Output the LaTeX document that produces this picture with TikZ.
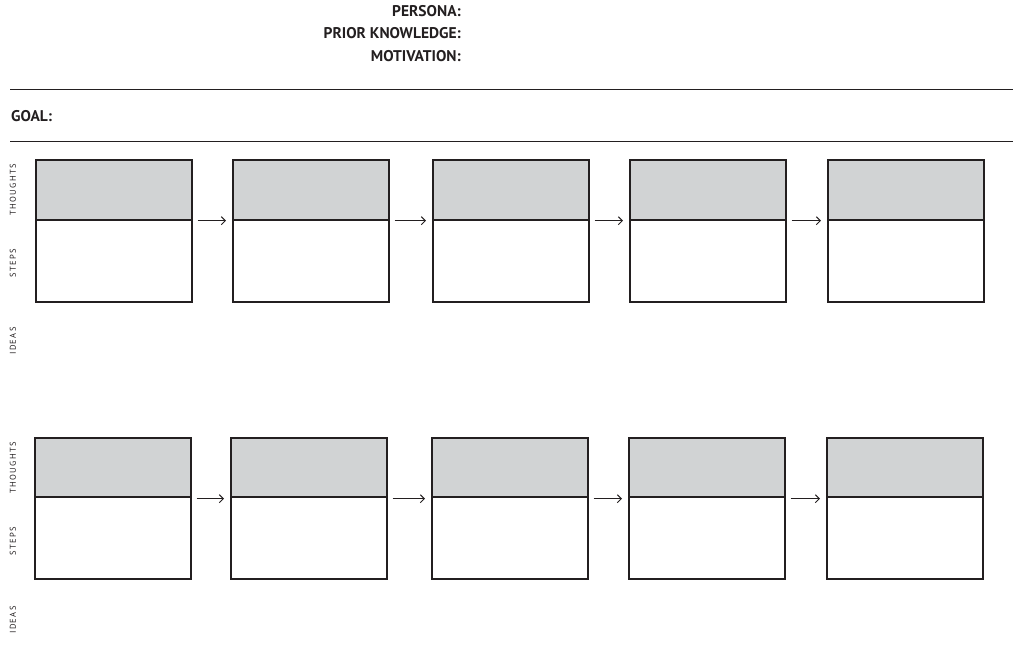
\documentclass[tikz,border=0pt]{standalone}
\usepackage{fontspec}
\setmainfont{PT Sans}
\usetikzlibrary{arrows.meta}
\definecolor{boxgray}{HTML}{D1D3D4}
\definecolor{inkc}{HTML}{231F20}
\begin{document}
\begin{tikzpicture}[x=1pt,y=-1pt,
  hdr/.style={font=\bfseries\fontsize{15.5}{16}\selectfont, text=inkc, anchor=east, inner sep=0pt},
  side/.style={font=\fontsize{8.5}{9}\selectfont, text=inkc, rotate=90, inner sep=0pt},
  topbox/.style={draw=inkc, line width=1.7pt, fill=boxgray, minimum width=156pt, minimum height=60pt, anchor=north west, inner sep=0pt},
  botbox/.style={draw=inkc, line width=1.7pt, fill=white, minimum width=156pt, minimum height=82pt, anchor=north west, inner sep=0pt},
  flow/.style={draw=inkc, line width=1pt, -{Straight Barb[length=4pt,width=8pt]}, shorten <=5pt, shorten >=6pt}]
\useasboundingbox (0,0) rectangle (1025,647);
\node[hdr] (persona) at (461,11) {PERSONA:};
\node[hdr] (prior) at (461,33.5) {PRIOR KNOWLEDGE:};
\node[hdr] (motiv) at (461,56) {MOTIVATION:};
\coordinate (l1a) at (10,89); \coordinate (l1b) at (1013,89);
\coordinate (l2a) at (10,141); \coordinate (l2b) at (1013,141);
\draw[inkc, line width=0.7pt] (l1a) -- (l1b);
\draw[inkc, line width=0.7pt] (l2a) -- (l2b);
\node[hdr, anchor=west] (goal) at (11,116) {GOAL:};
% row 1
\foreach \i/\x in {1/35,2/232,3/432,4/629,5/827}{
  \node[topbox] (a\i) at (\x,159) {};
  \node[botbox] (b\i) at (\x,219) {};
}
% row 2
\foreach \i/\x in {1/34,2/230,3/431,4/628,5/826}{
  \node[topbox] (c\i) at (\x,437) {};
  \node[botbox] (d\i) at (\x,496) {};
}
\foreach \i/\j in {1/2,2/3,3/4,4/5}{
  \draw[flow] (a\i.south east) -- (a\j.south west);
  \draw[flow] (c\i.south east) -- (c\j.south west);
}
\node[side] (t1) at (13,190) {T\,H\,O\,U\,G\,H\,T\,S};
\node[side] (s1) at (13,263) {S\,T\,E\,P\,S};
\node[side] (i1) at (13,341) {I\,D\,E\,A\,S};
\node[side] (t2) at (13,468) {T\,H\,O\,U\,G\,H\,T\,S};
\node[side] (s2) at (13,541) {S\,T\,E\,P\,S};
\node[side] (i2) at (13,620) {I\,D\,E\,A\,S};
\end{tikzpicture}
\end{document}
